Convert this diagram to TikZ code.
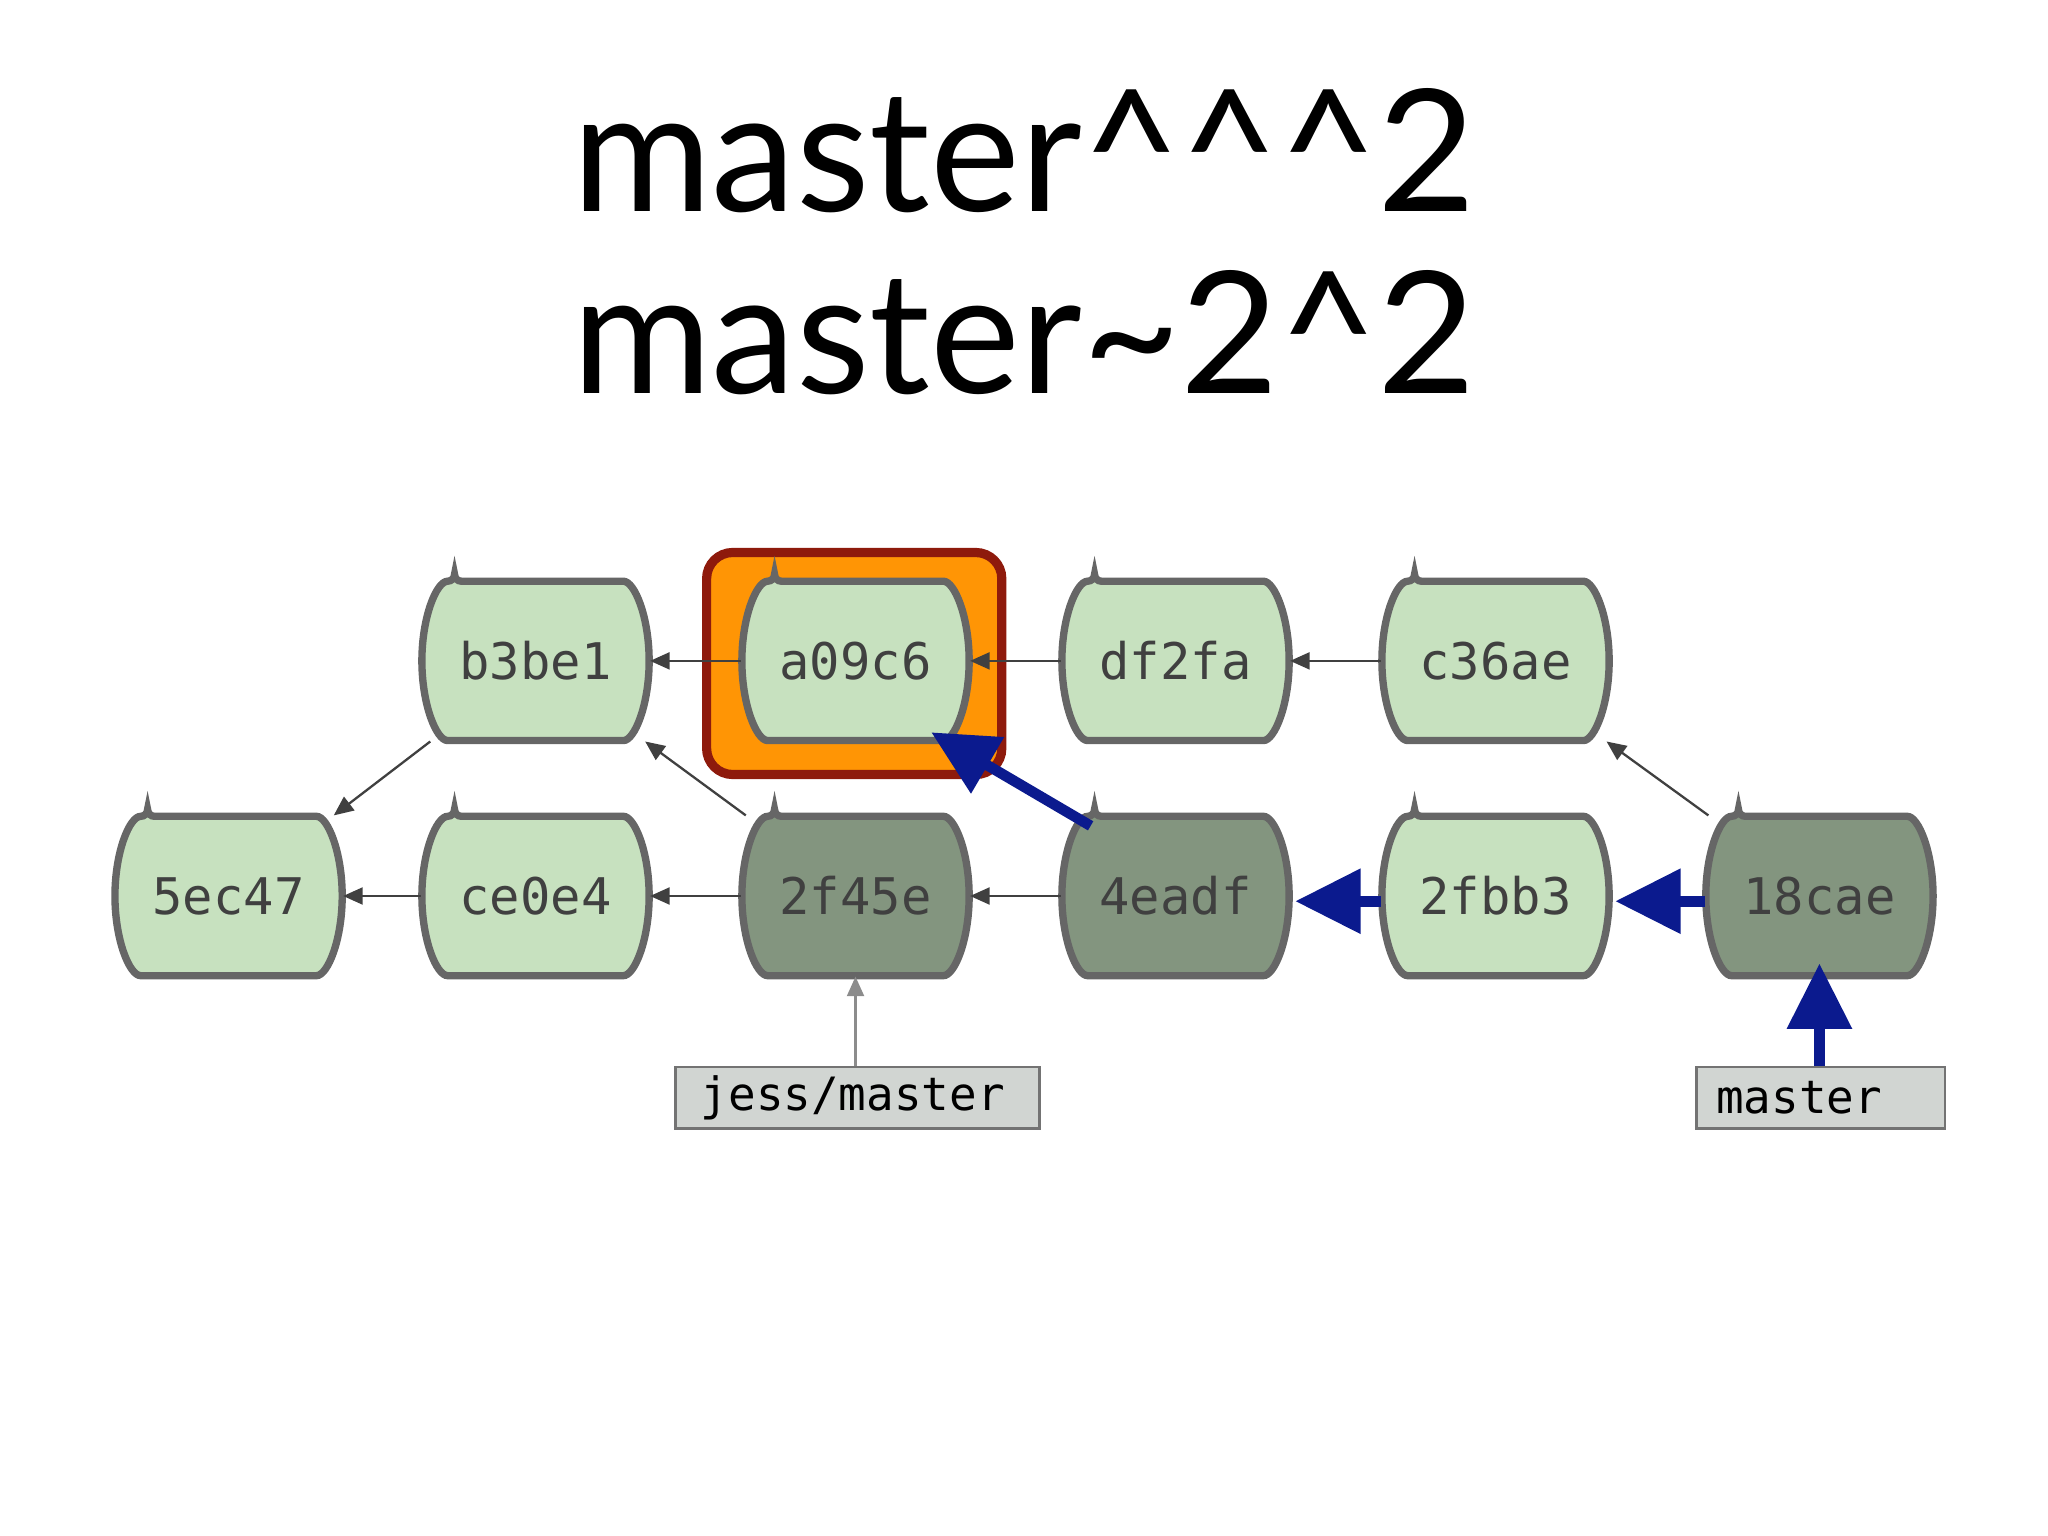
\documentclass[tikz,border=0pt]{standalone}
\usepackage{fontspec}
\setmainfont{Lato}
\newfontfamily\monofont{DejaVu Sans Mono}
\usetikzlibrary{positioning,arrows.meta}
\definecolor{commitgreen}{HTML}{C7E1BF}
\definecolor{commitdark}{HTML}{83957F}
\definecolor{commitedge}{HTML}{666666}
\definecolor{refgray}{HTML}{D1D5D2}
\definecolor{hlorange}{HTML}{FF9505}
\definecolor{hlred}{HTML}{8E1A0C}
\definecolor{pathblue}{HTML}{0B1A8E}
\tikzset{
  commit/.style={minimum width=1.74cm, minimum height=1.22cm, inner sep=0pt,
    font=\monofont\fontsize{11}{13}\selectfont, text=black!75},
  refbox/.style={draw=black!55, fill=refgray, line width=0.6pt, inner sep=0pt,
    minimum height=0.47cm, font=\monofont\fontsize{10}{12}\selectfont, anchor=west},
  parent/.style={-{Triangle[length=0.15cm,width=0.13cm]}, draw=black!75, line width=0.5pt},
  walk/.style={-{Triangle[length=0.5cm,width=0.48cm]}, draw=pathblue, line width=2.3pt}
}
% name, position, fill, label
\newcommand{\commitnode}[4]{%
  \path[draw=commitedge, line width=1.6pt, fill=#3, rounded corners=1.5pt] (#2) ++(-0.62,0.61)
    -- ++(1.24,0) arc[start angle=90,end angle=-90,x radius=0.25,y radius=0.61]
    -- ++(-1.24,0) arc[start angle=270,end angle=90,x radius=0.25,y radius=0.61] -- cycle;
  \node[commit] (#1) at (#2) {#4};}
\begin{document}
\begin{tikzpicture}
\useasboundingbox (0,0) rectangle (15.68,-11.76);

% ======================================
% TITLE
% ======================================
\node[font=\fontsize{37}{40}\selectfont] (line1) at (7.84,-1.15) {master\^{}\^{}\^{}2};
\node[font=\fontsize{37}{40}\selectfont] (line2) at (7.84,-2.55) {master\char`\~2\^{}2};

% ======================================
% HIGHLIGHT
% ======================================
\node[draw=hlred, fill=hlorange, line width=2pt, rounded corners=0.2cm,
  minimum width=2.26cm, minimum height=1.7cm] (hl) at (6.54,-5.08) {};

% ======================================
% TOP ROW
% ======================================
\commitnode{b3be1}{4.10,-5.06}{commitgreen}{b3be1}
\commitnode{a09c6}{6.55,-5.06}{commitgreen}{a09c6}
\commitnode{df2fa}{9.00,-5.06}{commitgreen}{df2fa}
\commitnode{c36ae}{11.45,-5.06}{commitgreen}{c36ae}

% ======================================
% BOTTOM ROW
% ======================================
\commitnode{5ec47}{1.75,-6.86}{commitgreen}{5ec47}
\commitnode{ce0e4}{4.10,-6.86}{commitgreen}{ce0e4}
\commitnode{2f45e}{6.55,-6.86}{commitdark}{2f45e}
\commitnode{4eadf}{9.00,-6.86}{commitdark}{4eadf}
\commitnode{2fbb3}{11.45,-6.86}{commitgreen}{2fbb3}
\commitnode{18cae}{13.93,-6.86}{commitdark}{18cae}

% ======================================
% REFS
% ======================================
\node[refbox, minimum width=2.79cm, text width=2.6cm] (jess) at (5.16,-8.405) {\hspace{0.1cm}jess/master};
\node[refbox, minimum width=1.9cm, text width=1.8cm] (master) at (12.98,-8.405) {\hspace{0.1cm}master};

% ======================================
% PARENT LINKS
% ======================================
\draw[parent] (c36ae) -- (df2fa);
\draw[parent] (df2fa) -- (a09c6);
\draw[parent] (a09c6) -- (b3be1);
\draw[parent] (b3be1) -- (5ec47);
\draw[parent] (ce0e4) -- (5ec47);
\draw[parent] (2f45e) -- (ce0e4);
\draw[parent] (2f45e) -- (b3be1);
\draw[parent] (4eadf) -- (2f45e);
\draw[parent] (18cae) -- (c36ae);
\draw[parent, draw=black!45] (jess.north -| 2f45e) -- (2f45e);

% ======================================
% WALK
% ======================================
\draw[walk] (master.north -| 18cae) -- ([yshift=0.1cm]18cae.south);
\draw[walk] ([yshift=-0.04cm]18cae.west) -- ([xshift=0.04cm,yshift=-0.04cm]2fbb3.east);
\draw[walk] ([yshift=-0.04cm]2fbb3.west) -- ([xshift=0.04cm,yshift=-0.04cm]4eadf.east);
\draw[walk] ([xshift=-0.65cm,yshift=-0.08cm]4eadf.north) -- ([xshift=0.58cm,yshift=0.07cm]a09c6.south);
\end{tikzpicture}
\end{document}
